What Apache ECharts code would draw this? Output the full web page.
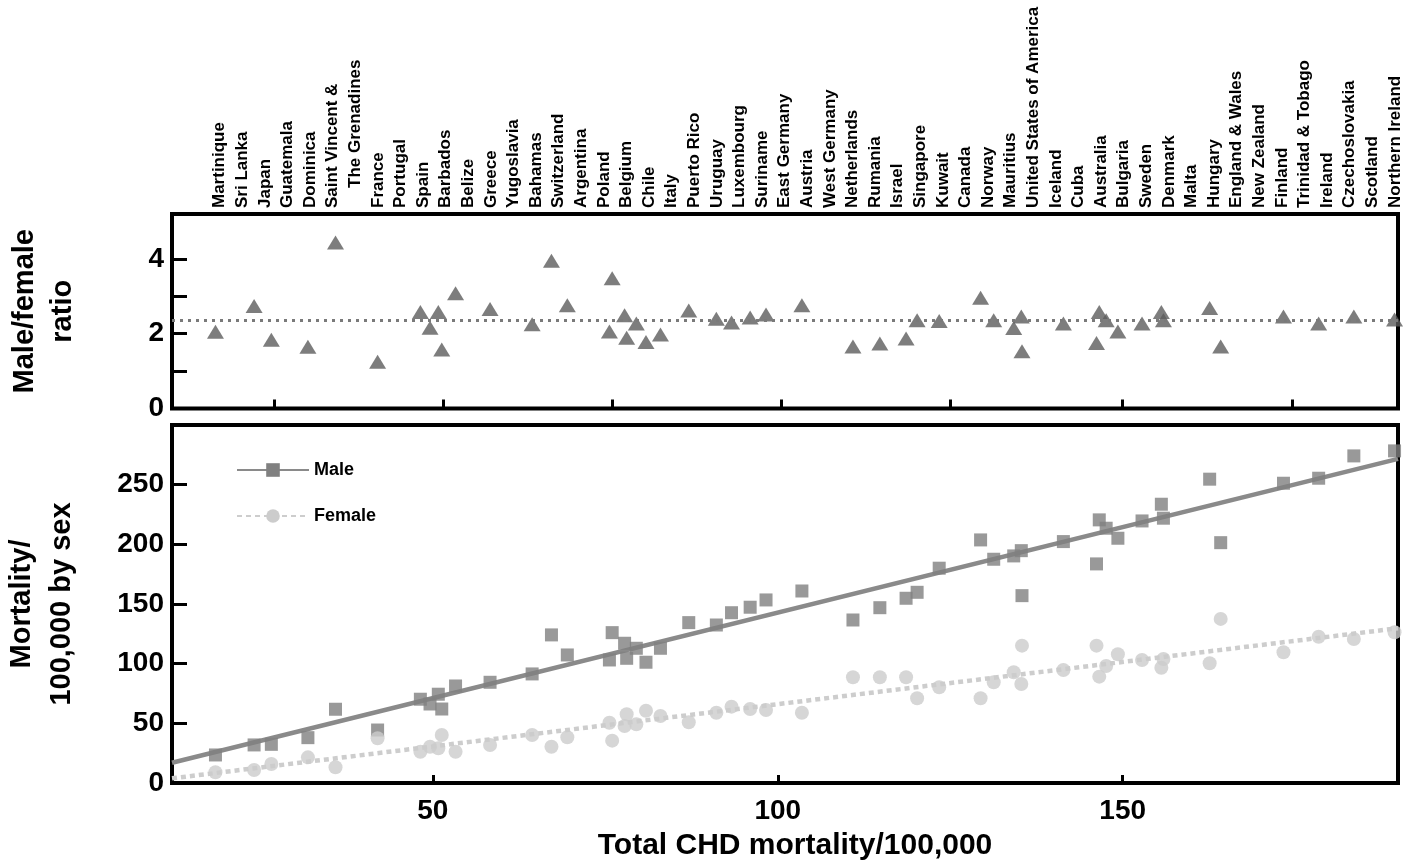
<!DOCTYPE html>
<html>
<head>
<meta charset="utf-8">
<script src="https://cdn.jsdelivr.net/npm/echarts@6/dist/echarts.min.js"></script>
<style>
  html, body { margin: 0; padding: 0; background: #ffffff; }
  #chart { width: 1407px; height: 866px; }
</style>
</head>
<body>
<div id="chart"></div>
<script>
// Countries, ordered by total CHD mortality (lowest first)
const countries = [
  'Martinique', 'Sri Lanka', 'Japan', 'Guatemala', 'Dominica',
  'Saint Vincent & The Grenadines', 'France', 'Portugal', 'Spain', 'Barbados',
  'Belize', 'Greece', 'Yugoslavia', 'Bahamas', 'Switzerland', 'Argentina',
  'Poland', 'Belgium', 'Chile', 'Italy', 'Puerto Rico', 'Uruguay', 'Luxembourg',
  'Suriname', 'East Germany', 'Austria', 'West Germany', 'Netherlands', 'Rumania',
  'Israel', 'Singapore', 'Kuwait', 'Canada', 'Norway', 'Mauritius',
  'United States of America', 'Iceland', 'Cuba', 'Australia', 'Bulgaria',
  'Sweden', 'Denmark', 'Malta', 'Hungary', 'England & Wales', 'New Zealand',
  'Finland', 'Trinidad & Tobago', 'Ireland', 'Czechoslovakia', 'Scotland',
  'Northern Ireland'
];

// Total CHD mortality per 100,000 (x position of every mark)
const totalChd = [
  18.5, 24.1, 26.6, 31.9, 35.9, 42.0, 48.2, 49.6, 50.8, 51.3,
  53.3, 58.3, 64.4, 67.2, 69.5, 75.6, 76.0, 77.8, 78.1, 79.5,
  80.9, 83.0, 87.1, 91.1, 93.3, 96.0, 98.3, 103.5, 110.9, 114.8,
  118.6, 120.2, 123.4, 129.4, 131.3, 134.2, 135.3, 135.4, 141.4, 146.2,
  146.6, 147.6, 149.3, 152.8, 155.6, 155.9, 162.6, 164.2, 173.3, 178.4,
  183.5, 189.4
];

// Male mortality per 100,000
const maleRate = [
  23.5, 31.9, 32.4, 38.0, 61.8, 44.4, 70.2, 66.2, 74.4, 62.0,
  81.3, 84.4, 91.4, 124.1, 107.3, 103.1, 126.0, 117.1, 104.5, 112.9,
  101.2, 112.9, 134.4, 132.4, 142.7, 147.3, 153.4, 160.9, 136.6, 146.9,
  154.8, 159.8, 180.0, 203.7, 187.5, 190.3, 194.7, 157.0, 202.3, 183.6,
  220.5, 213.5, 205.1, 219.6, 233.6, 221.9, 254.6, 201.4, 251.2, 255.4,
  274.1, 278.3
];

// Female mortality per 100,000
const femaleRate = [
  9.0, 10.9, 15.9, 21.5, 13.2, 37.5, 26.2, 30.4, 29.1, 40.2,
  26.2, 31.9, 40.2, 30.4, 38.3, 50.5, 35.5, 47.8, 57.6, 49.2,
  60.6, 56.2, 50.9, 58.9, 64.0, 62.0, 61.2, 58.9, 88.6, 88.6,
  88.6, 71.0, 80.2, 71.0, 84.4, 92.8, 83.0, 115.1, 94.7, 115.1,
  89.1, 98.1, 107.9, 103.1, 96.6, 103.9, 100.3, 137.5, 109.6, 122.6,
  120.7, 126.3
];

// Male/female mortality ratio
const sexRatio = [
  2.05, 2.74, 1.84, 1.65, 4.44, 1.25, 2.58, 2.16, 2.58, 1.58,
  3.08, 2.66, 2.25, 3.95, 2.76, 2.06, 3.48, 2.49, 1.89, 2.27,
  1.78, 1.98, 2.62, 2.40, 2.30, 2.43, 2.51, 2.76, 1.66, 1.74,
  1.87, 2.36, 2.34, 2.96, 2.36, 2.15, 2.46, 1.53, 2.27, 1.75,
  2.58, 2.36, 2.06, 2.27, 2.58, 2.36, 2.69, 1.66, 2.46, 2.27,
  2.46, 2.38
];

// Fitted regression lines (end points across the plotted range)
const maleFit = [[12.2, 17.0], [189.9, 271.6]];
const femaleFit = [[12.2, 3.9], [189.9, 129.7]];
const meanRatio = 2.35;

// Axis ranges and ticks
const xRange = [12.2, 189.9];
const xTicksRatio = [27, 51.5, 76, 100.5, 125, 150, 174.5];
const xTicksRate = [50, 100, 150];
const ratioTicks = [1, 2, 3, 4];
const ratioTickLabels = [0, 2, 4];
const rateTicks = [50, 100, 150, 200, 250];
const rateTickLabels = [0, 50, 100, 150, 200, 250];

// The long country name wraps onto two label columns
const countryLabelRows = countries.flatMap(c =>
  c === 'Saint Vincent & The Grenadines' ? ['Saint Vincent &', 'The Grenadines'] : [c]
);

const FONT = "'Liberation Sans', Arial, Helvetica, sans-serif";
const INK = '#000000';

const chart = echarts.init(document.getElementById('chart'), null, { renderer: 'canvas' });

const valueTickStyle = (len) => ({
  inside: true, length: len, lineStyle: { color: INK, width: 3 }
});

chart.setOption({
  animation: false,
  backgroundColor: '#ffffff',
  textStyle: { fontFamily: FONT },
  grid: [
    { left: 172, right: 9, top: 214, height: 194.5, show: true, borderColor: INK, borderWidth: 4, backgroundColor: 'transparent', containLabel: false, outerBoundsMode: 'none' },
    { left: 172, right: 9, top: 425, height: 358, show: true, borderColor: INK, borderWidth: 4, backgroundColor: 'transparent', containLabel: false, outerBoundsMode: 'none' },
    { left: 208.5, width: 1197.8, top: 214, height: 1, containLabel: false, outerBoundsMode: 'none' }
  ],
  legend: {
    data: ['Male', 'Female'],
    orient: 'vertical',
    left: 236,
    top: 461,
    padding: 0,
    itemWidth: 72,
    itemHeight: 17,
    itemGap: 28,
    textStyle: { fontFamily: FONT, fontSize: 18, fontWeight: 'bold', color: INK }
  },
  xAxis: [
    {
      gridIndex: 0, type: 'value', min: xRange[0], max: xRange[1],
      axisLine: { show: false },
      axisTick: Object.assign(valueTickStyle(9), { customValues: xTicksRatio }),
      axisLabel: { show: false },
      splitLine: { show: false }
    },
    {
      gridIndex: 1, type: 'value', min: xRange[0], max: xRange[1],
      axisLine: { show: false },
      axisTick: Object.assign(valueTickStyle(8), { customValues: xTicksRate }),
      axisLabel: {
        customValues: xTicksRate, margin: 14,
        fontFamily: FONT, fontSize: 28, fontWeight: 'bold', color: INK
      },
      splitLine: { show: false },
      name: 'Total CHD mortality/100,000',
      nameLocation: 'middle',
      nameGap: 48,
      nameTextStyle: { fontFamily: FONT, fontSize: 30, fontWeight: 'bold', color: INK, padding: [0, 0, 0, 20] }
    },
    {
      gridIndex: 2, type: 'category', position: 'top', data: countryLabelRows,
      boundaryGap: true,
      axisLine: { show: false },
      axisTick: { show: false },
      axisLabel: {
        interval: 0, rotate: 90, margin: 6,
        fontFamily: FONT, fontSize: 17, fontWeight: 'bold', color: INK,
        formatter: (v) => v === 'The Grenadines' ? '{indent|' + v + '}' : v,
        rich: { indent: { padding: [0, 0, 0, 20], fontFamily: FONT, fontSize: 17, fontWeight: 'bold', color: INK } }
      },
      splitLine: { show: false }
    }
  ],
  yAxis: [
    {
      gridIndex: 0, type: 'value', min: 0, max: 5.2,
      axisLine: { show: false },
      axisTick: Object.assign(valueTickStyle(15), { customValues: ratioTicks }),
      axisLabel: {
        customValues: ratioTickLabels, margin: 8,
        fontFamily: FONT, fontSize: 28, fontWeight: 'bold', color: INK
      },
      splitLine: { show: false },
      name: 'Male/female\nratio',
      nameLocation: 'middle',
      nameGap: 90,
      nameTextStyle: { fontFamily: FONT, fontSize: 29, fontWeight: 'bold', color: INK, lineHeight: 38 }
    },
    {
      gridIndex: 1, type: 'value', min: 0, max: 300,
      axisLine: { show: false },
      axisTick: Object.assign(valueTickStyle(15), { customValues: rateTicks }),
      axisLabel: {
        customValues: rateTickLabels, margin: 8,
        fontFamily: FONT, fontSize: 28, fontWeight: 'bold', color: INK
      },
      splitLine: { show: false },
      name: 'Mortality/\n100,000 by sex',
      nameLocation: 'middle',
      nameGap: 90,
      nameTextStyle: { fontFamily: FONT, fontSize: 29, fontWeight: 'bold', color: INK, lineHeight: 40 }
    },
    { gridIndex: 2, type: 'value', show: false }
  ],
  series: [
    {
      name: 'Male', type: 'line', xAxisIndex: 1, yAxisIndex: 1,
      data: maleFit, symbol: 'rect', showSymbol: false, silent: true, z: 2,
      lineStyle: { color: '#8a8a8a', width: 4.5 },
      itemStyle: { color: '#808080' }
    },
    {
      name: 'Female', type: 'line', xAxisIndex: 1, yAxisIndex: 1,
      data: femaleFit, symbol: 'circle', showSymbol: false, silent: true, z: 2,
      lineStyle: { color: '#cdcdcd', width: 4.5, type: [5, 4] },
      itemStyle: { color: '#cccccc' }
    },
    {
      name: 'Male', type: 'scatter', xAxisIndex: 1, yAxisIndex: 1,
      data: totalChd.map((x, i) => [x, maleRate[i]]),
      symbol: 'rect', symbolSize: 13, z: 3,
      itemStyle: { color: '#7f7f7f' }
    },
    {
      name: 'Female', type: 'scatter', xAxisIndex: 1, yAxisIndex: 1,
      data: totalChd.map((x, i) => [x, femaleRate[i]]),
      symbol: 'circle', symbolSize: 14, z: 3,
      itemStyle: { color: '#cccccc' }
    },
    {
      name: 'Ratio', type: 'scatter', xAxisIndex: 0, yAxisIndex: 0,
      data: totalChd.map((x, i) => [x, sexRatio[i]]),
      symbol: 'triangle', symbolSize: [17, 14], z: 3,
      itemStyle: { color: '#5c5c5c' },
      markLine: {
        silent: true, symbol: 'none', label: { show: false },
        lineStyle: { color: '#7a7a7a', width: 3, type: [3, 5] },
        data: [{ yAxis: meanRatio }]
      }
    }
  ]
});
</script>
</body>
</html>
